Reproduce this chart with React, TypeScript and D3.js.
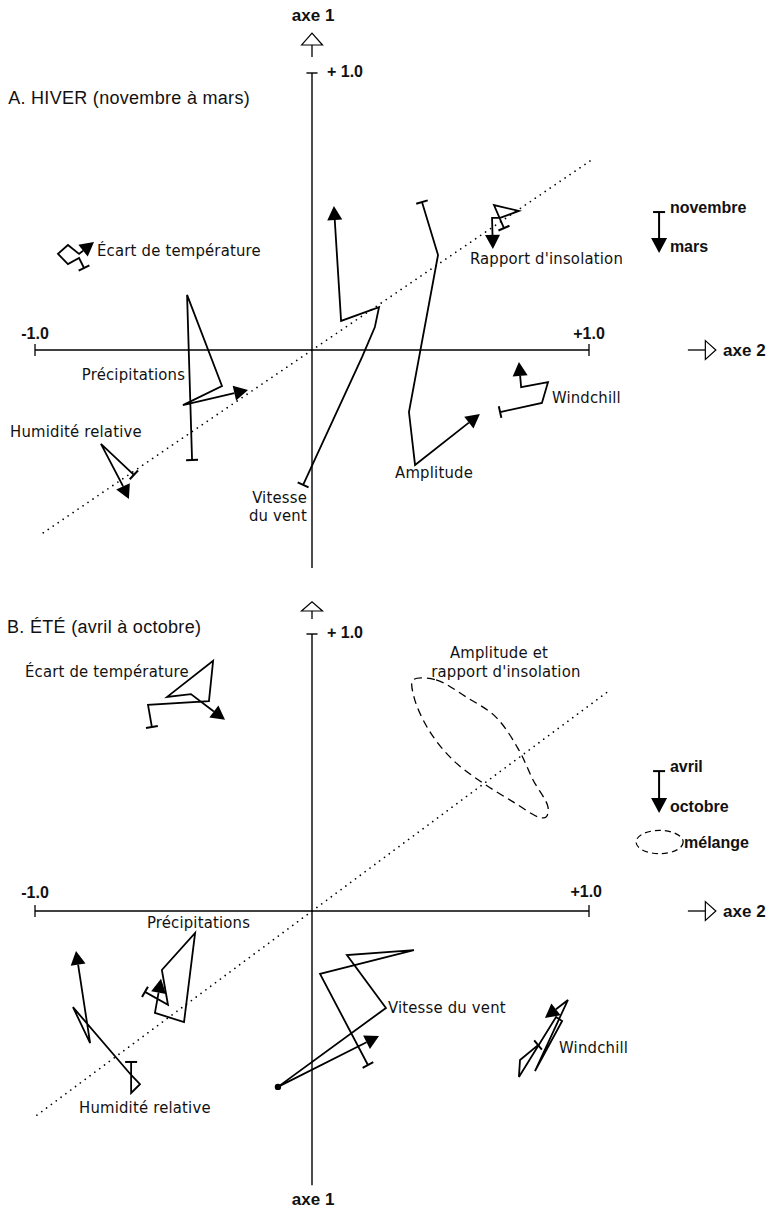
import React from 'react';
import * as d3 from 'd3';

type Pt = [number, number];

// coordonnées [axe 2, axe 1] ; premier point = novembre / avril, dernier = mars / octobre
const hiverEcart: Pt[] = [[-0.823, 0.296], [-0.841, 0.332], [-0.881, 0.31], [-0.917, 0.347], [-0.881, 0.379], [-0.841, 0.347], [-0.787, 0.39]];
const hiverPrecip: Pt[] = [[-0.433, -0.397], [-0.451, 0.199], [-0.325, -0.13], [-0.466, -0.199], [-0.231, -0.144]];
const hiverHumid: Pt[] = [[-0.643, -0.451], [-0.762, -0.339], [-0.686, -0.484], [-0.661, -0.538]];
const hiverVent: Pt[] = [[-0.032, -0.487], [0.181, -0.025], [0.227, 0.083], [0.242, 0.155], [0.105, 0.105], [0.079, 0.52]];
const hiverAmpl: Pt[] = [[0.397, 0.534], [0.455, 0.343], [0.35, -0.224], [0.372, -0.415], [0.606, -0.231]];
const hiverWind: Pt[] = [[0.679, -0.224], [0.83, -0.191], [0.852, -0.116], [0.755, -0.134], [0.747, -0.043]];
const hiverInsol: Pt[] = [[0.693, 0.44], [0.657, 0.523], [0.747, 0.502], [0.679, 0.477], [0.65, 0.477], [0.653, 0.365]];

const eteEcart: Pt[] = [[-0.578, 0.664], [-0.592, 0.744], [-0.372, 0.758], [-0.357, 0.903], [-0.523, 0.773], [-0.437, 0.783], [-0.314, 0.69]];
const etePrecip: Pt[] = [[-0.603, -0.292], [-0.52, -0.339], [-0.542, -0.213], [-0.422, -0.079], [-0.462, -0.401], [-0.567, -0.368], [-0.545, -0.245]];
const eteHumid: Pt[] = [[-0.653, -0.545], [-0.653, -0.657], [-0.621, -0.625], [-0.653, -0.592], [-0.863, -0.347], [-0.801, -0.477], [-0.852, -0.144]];
const eteVent: Pt[] = [[0.202, -0.556], [0.029, -0.227], [0.368, -0.141], [0.126, -0.159], [0.267, -0.35], [-0.123, -0.635], [0.242, -0.451]];
const eteWind: Pt[] = [[0.816, -0.484], [0.751, -0.538], [0.747, -0.599], [0.881, -0.383], [0.903, -0.397], [0.805, -0.578], [0.924, -0.321], [0.841, -0.386]];
const eteMelange: Pt[] = [[0.365, 0.834], [0.448, 0.834], [0.556, 0.773], [0.664, 0.7], [0.747, 0.581], [0.798, 0.473], [0.852, 0.375], [0.845, 0.339], [0.819, 0.339], [0.726, 0.394], [0.617, 0.462], [0.509, 0.545], [0.422, 0.653], [0.368, 0.773]];

const diagHiver: Pt[] = [[-0.97, -0.66], [1.015, 0.69]];
const diagEte: Pt[] = [[-0.993, -0.737], [1.079, 0.8]];

const S = 277;
const NARROW = "'Liberation Sans Narrow', 'DejaVu Sans Condensed', 'Arial Narrow', sans-serif";
const WIDE = "'Liberation Sans', Arial, sans-serif";

function Trajectory({ pts, x, y, dot }: { pts: Pt[]; x: any; y: any; dot?: number }) {
  const pix: Pt[] = pts.map(p => [x(p[0]), y(p[1])]);
  const n = pix.length;
  const [x1, y1] = pix[n - 2];
  const [x2, y2] = pix[n - 1];
  const len = Math.hypot(x2 - x1, y2 - y1);
  const ux = (x2 - x1) / len, uy = (y2 - y1) / len;
  const L = 14, W = 7.5;
  const bx = x2 - ux * L, by = y2 - uy * L;
  const head = `M${x2},${y2}L${bx - uy * W},${by + ux * W}L${bx + uy * W},${by - ux * W}Z`;
  const body = d3.line()([...pix.slice(0, n - 1), [bx, by]] as any) as string;
  // barre de départ, perpendiculaire au premier segment
  const [sx, sy] = pix[0];
  const [tx, ty] = pix[1];
  const l0 = Math.hypot(tx - sx, ty - sy);
  const vx = (tx - sx) / l0, vy = (ty - sy) / l0;
  const T = 6;
  return (
    <g>
      <path d={body} fill="none" stroke="#000" strokeWidth={1.8} strokeLinejoin="miter" />
      <line x1={sx - vy * T} y1={sy + vx * T} x2={sx + vy * T} y2={sy - vx * T} stroke="#000" strokeWidth={2} />
      <path d={head} fill="#000" />
      {dot !== undefined && <circle cx={pix[dot][0]} cy={pix[dot][1]} r={3.2} fill="#000" />}
    </g>
  );
}

type Label = { t: string; at: Pt; anchor?: string; font?: string; size?: number; weight?: any; ls?: number };

function Panel({ oy, series, diag, labels, top, bottomY, legend, melange, dotIdx }: any) {
  const x = d3.scaleLinear().domain([-1, 1]).range([312 - S, 312 + S]);
  const y = d3.scaleLinear().domain([-1, 1]).range([oy + S, oy - S]);
  const x0 = x(0);
  return (
    <g>
      {/* axe 1 */}
      <path d={`M${x(-0.038)},${y(top[1])}L${x0},${y(top[0])}L${x(0.038)},${y(top[1])}Z`} fill="#fff" stroke="#000" strokeWidth={1.2} />
      <line x1={x0} x2={x0} y1={y(top[1])} y2={y(top[2])} stroke="#000" strokeWidth={1.3} />
      <line x1={x0} x2={x0} y1={y(1)} y2={y(bottomY)} stroke="#000" strokeWidth={1.4} />
      <line x1={x(-0.02)} x2={x(0.02)} y1={y(1)} y2={y(1)} stroke="#000" strokeWidth={1.4} />
      {/* axe 2 */}
      <line x1={x(-1)} x2={x(1)} y1={y(0)} y2={y(0)} stroke="#000" strokeWidth={1.4} />
      <line x1={x(-1)} x2={x(-1)} y1={y(0) - 6} y2={y(0) + 6} stroke="#000" strokeWidth={1.3} />
      <line x1={x(1)} x2={x(1)} y1={y(0) - 6} y2={y(0) + 6} stroke="#000" strokeWidth={1.3} />
      <line x1={x(1.357)} x2={x(1.42)} y1={y(0)} y2={y(0)} stroke="#000" strokeWidth={1.3} />
      <path d={`M${x(1.42)},${y(0.034)}L${x(1.458)},${y(0)}L${x(1.42)},${y(-0.034)}Z`} fill="#fff" stroke="#000" strokeWidth={1.2} />
      {/* diagonale */}
      <path d={d3.line()(diag.map((p: Pt) => [x(p[0]), y(p[1])])) as string} stroke="#000" strokeWidth={1.7} strokeDasharray="0.01 6" strokeLinecap="round" fill="none" />
      {melange && (
        <path d={d3.line().curve(d3.curveCatmullRomClosed)(melange.map((p: Pt) => [x(p[0]), y(p[1])])) as string} fill="none" stroke="#000" strokeWidth={1.3} strokeDasharray="8 5" />
      )}
      {series.map((s: Pt[], i: number) => (
        <Trajectory key={i} pts={s} x={x} y={y} dot={i === dotIdx?.[0] ? dotIdx[1] : undefined} />
      ))}
      {/* légende */}
      <line x1={x(legend[0])} x2={x(legend[0])} y1={y(legend[1])} y2={y(legend[2]) - 12} stroke="#000" strokeWidth={2} />
      <line x1={x(legend[0]) - 6} x2={x(legend[0]) + 6} y1={y(legend[1])} y2={y(legend[1])} stroke="#000" strokeWidth={2} />
      <path d={`M${x(legend[0])},${y(legend[2])}L${x(legend[0]) - 8},${y(legend[2]) - 15}L${x(legend[0]) + 8},${y(legend[2]) - 15}Z`} fill="#000" />
      {melange && (
        <ellipse cx={x(1.255)} cy={y(0.249)} rx={0.085 * S} ry={0.042 * S} fill="none" stroke="#000" strokeWidth={1.2} strokeDasharray="6 4" />
      )}
      {labels.map((l: Label, i: number) => (
        <text key={i} x={x(l.at[0])} y={y(l.at[1])} textAnchor={l.anchor || 'start'} dominantBaseline="central"
          fontFamily={l.font || NARROW} fontSize={l.size || 16.5} fontWeight={l.weight || 'normal'} letterSpacing={l.ls ?? 0.2} fill="#111">
          {l.t}
        </text>
      ))}
    </g>
  );
}

const axisLabel = { font: WIDE, size: 16, weight: 'bold', ls: 0 };

const hiverLabels: Label[] = [
  { t: 'axe 1', at: [0.004, 1.209], anchor: 'middle', ...axisLabel, size: 17 },
  { t: '+ 1.0', at: [0.054, 1.004], ...axisLabel },
  { t: '-1.0', at: [-1.0, 0.061], anchor: 'middle', ...axisLabel },
  { t: '+1.0', at: [1.0, 0.061], anchor: 'middle', ...axisLabel },
  { t: 'axe 2', at: [1.484, 0], ...axisLabel, size: 17 },
  { t: 'A. HIVER (novembre à mars)', at: [-1.097, 0.91], font: WIDE, size: 18, ls: 0.3 },
  { t: 'Écart de température', at: [-0.776, 0.361] },
  { t: 'Précipitations', at: [-0.458, -0.09], anchor: 'end' },
  { t: 'Humidité relative', at: [-1.09, -0.296] },
  { t: 'Vitesse', at: [-0.018, -0.534], anchor: 'end' },
  { t: 'du vent', at: [-0.018, -0.596], anchor: 'end' },
  { t: 'Amplitude', at: [0.3, -0.444] },
  { t: 'Windchill', at: [0.866, -0.17] },
  { t: "Rapport d'insolation", at: [0.57, 0.332] },
  { t: 'novembre', at: [1.292, 0.513], ...axisLabel },
  { t: 'mars', at: [1.292, 0.375], ...axisLabel },
];

const eteLabels: Label[] = [
  { t: '+ 1.0', at: [0.054, 1.007], ...axisLabel },
  { t: '-1.0', at: [-1.0, 0.065], anchor: 'middle', ...axisLabel },
  { t: '+1.0', at: [0.99, 0.069], anchor: 'middle', ...axisLabel },
  { t: 'axe 2', at: [1.484, 0], ...axisLabel, size: 17 },
  { t: 'axe 1', at: [0.004, -1.043], anchor: 'middle', ...axisLabel, size: 17 },
  { t: 'B. ÉTÉ (avril à octobre)', at: [-1.101, 1.025], font: WIDE, size: 18, ls: 0.3 },
  { t: 'Écart de température', at: [-1.036, 0.866] },
  { t: 'Amplitude et', at: [0.675, 0.935], anchor: 'middle' },
  { t: "rapport d'insolation", at: [0.7, 0.866], anchor: 'middle' },
  { t: 'Précipitations', at: [-0.596, -0.04] },
  { t: 'Humidité relative', at: [-0.841, -0.711] },
  { t: 'Vitesse du vent', at: [0.274, -0.347] },
  { t: 'Windchill', at: [0.892, -0.491] },
  { t: 'avril', at: [1.292, 0.52], ...axisLabel },
  { t: 'octobre', at: [1.292, 0.379], ...axisLabel },
  { t: 'mélange', at: [1.343, 0.249], ...axisLabel },
];

export default function App() {
  return (
    <svg width={772} height={1210} style={{ position: 'absolute', left: 0, top: 0, background: '#fff' }}>
      <Panel oy={350}
        series={[hiverEcart, hiverPrecip, hiverHumid, hiverVent, hiverAmpl, hiverWind, hiverInsol]}
        diag={diagHiver} labels={hiverLabels} top={[1.144, 1.101, 1.058]} bottomY={-0.787}
        legend={[1.253, 0.498, 0.35]} />
      <Panel oy={911}
        series={[eteEcart, etePrecip, eteHumid, eteVent, eteWind]}
        diag={diagEte} labels={eteLabels} top={[1.116, 1.083, 1.054]} bottomY={-0.99}
        legend={[1.253, 0.505, 0.354]} melange={eteMelange} dotIdx={[3, 5]} />
    </svg>
  );
}
